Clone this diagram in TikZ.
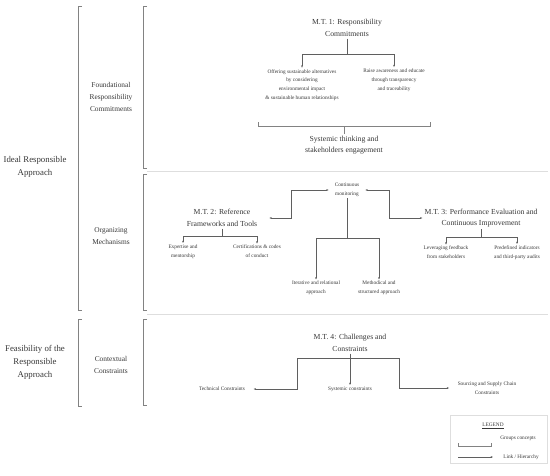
\documentclass[tikz,border=0pt]{standalone}
\usepackage{fontspec}
\setmainfont{Liberation Serif}
\usetikzlibrary{arrows.meta,positioning}
\definecolor{InkGray}{RGB}{55,55,55}
\definecolor{LineGray}{RGB}{95,95,95}
\definecolor{BraceGray}{RGB}{130,130,130}
\definecolor{RuleGray}{RGB}{222,222,222}
\newcommand{\leaffont}{\fontsize{5.3}{8.8}\selectfont}
\newcommand{\titlefont}{\fontsize{7.7}{11.5}\selectfont}
\newcommand{\groupfont}{\fontsize{7.4}{12}\selectfont}
\newcommand{\headfont}{\fontsize{8.8}{13}\selectfont}

\begin{document}
\begin{tikzpicture}[x=1pt, y=-1pt, >={Stealth[length=2.4pt,width=1.9pt]},
    every node/.style={text=InkGray, align=center}]
  \tikzstyle{leaf}=[font=\leaffont, inner sep=1.5pt]
  \tikzstyle{title}=[font=\titlefont, inner sep=2pt]
  \tikzstyle{group}=[font=\groupfont, inner sep=1pt]
  \tikzstyle{head}=[font=\headfont, inner sep=1pt]
  \tikzstyle{link}=[draw=LineGray, line width=0.5pt]
  \tikzstyle{bracket}=[draw=BraceGray, line width=0.6pt]
  \useasboundingbox (0,0) rectangle (550,475);

  % brackets and separators
  \draw[bracket] (82,6) -- (78,6) -- (78,310) -- (82,310);
  \draw[bracket] (82,319) -- (78,319) -- (78,406) -- (82,406);
  \draw[bracket] (147,6) -- (143,6) -- (143,168) -- (147,168);
  \draw[bracket] (147,174) -- (143,174) -- (143,310) -- (147,310);
  \draw[bracket] (147,319) -- (143,319) -- (143,405) -- (147,405);
  \draw[RuleGray, line width=0.5pt] (147,171.5) -- (548,171.5);
  \draw[RuleGray, line width=0.5pt] (147,314) -- (548,314);

  % left labels
  \node[head]  (ideal)   at (35,167)  {Ideal Responsible\\Approach};
  \node[head]  (feas)    at (35,362)  {Feasibility of the\\Responsible\\Approach};
  \node[group] (found)   at (111,97)  {Foundational\\Responsibility\\Commitments};
  \node[group] (organ)   at (111,236) {Organizing\\Mechanisms};
  \node[group] (context) at (111,365) {Contextual\\Constraints};

  % M.T. 1
  \node[title] (mt1)   at (347,28)  {M.T. 1: Responsibility\\Commitments};
  \node[leaf]  (offer) at (302,85)  {Offering sustainable alternatives\\by considering\\environmental impact\\\& sustainable human relationships};
  \node[leaf]  (raise) at (394,80)  {Raise awareness and educate\\through transparency\\and traceability};
  \node[title] (sysen) at (344,145) {Systemic thinking and\\stakeholders engagement};
  \coordinate (j1) at (347,54);
  \draw[link] (mt1.south) -- (j1);
  \draw[link, ->] (j1) -| (offer.north);
  \draw[link, ->] (j1) -| (raise.north);
  \draw[bracket] (258,122) -- (258,126) -- (430,126) -- (430,122);
  \draw[bracket] (344,126) -- (sysen.north);

  % monitoring, M.T. 2 and M.T. 3
  \node[leaf, inner xsep=6pt] (cm) at (347,190) {Continuous\\monitoring};
  \node[title] (mt2)    at (222,218) {M.T. 2: Reference\\Frameworks and Tools};
  \node[leaf]  (expert) at (183,251.5) {Expertise and\\mentorship};
  \node[leaf]  (cert)   at (257,251.5) {Certifications \& codes\\of conduct};
  \node[leaf]  (iter)   at (316,288) {Iterative and relational\\approach};
  \node[leaf]  (meth)   at (379,288) {Methodical and\\structured approach};
  \node[title] (mt3)    at (481,218) {M.T. 3: Performance Evaluation and\\Continuous Improvement};
  \node[leaf]  (lev)    at (446,252.5) {Leveraging feedback\\from stakeholders};
  \node[leaf]  (pred)   at (517,252.5) {Predefined indicators\\and third-party audits};
  \draw[link, <->] ([xshift=10]mt2.east) -- ++(22,0) |- (cm.west);
  \draw[link, <->] (cm.east) -- ++(24,0) |- (mt3.west);
  \coordinate (j2) at (222,236);
  \coordinate (j3) at (347,238);
  \coordinate (j5) at (481,237);
  \draw[link] (mt2.south) -- (j2);
  \draw[link, ->] (j2) -| (expert.north);
  \draw[link, ->] (j2) -| (cert.north);
  \draw[link] (cm.south) -- (j3);
  \draw[link, ->] (j3) -| (iter.north);
  \draw[link, ->] (j3) -| (meth.north);
  \draw[link] (mt3.south) -- (j5);
  \draw[link, ->] (j5) -| (lev.north);
  \draw[link, ->] (j5) -| (pred.north);

  % M.T. 4
  \node[title] (mt4)  at (350,343) {M.T. 4: Challenges and\\Constraints};
  \node[leaf]  (tech) at (222,389) {Technical Constraints};
  \node[leaf]  (sysc) at (350,389) {Systemic constraints};
  \node[leaf]  (src)  at (487,388) {Sourcing and Supply Chain\\Constraints};
  \coordinate (j4) at (350,358);
  \coordinate (c4l) at (297,358);
  \coordinate (c4r) at (399,358);
  \draw[link, ->] (mt4.south) -- (sysc.north);
  \draw[link, ->] (j4) -- (c4l) |- ([xshift=7]tech.east);
  \draw[link, ->] (j4) -- (c4r) |- ([xshift=-7]src.west);

  % legend
  \draw[draw=RuleGray, line width=0.7pt] (450,415) rectangle (547,463);
  \node[leaf] (leg)    at (493,426) {\underline{LEGEND}};
  \node[leaf] (groups) at (518,438) {Groups concepts};
  \node[leaf] (hier)   at (521,457) {Link / Hierarchy};
  \draw[bracket] (458,443) -- (458,446) -- (491,446) -- (491,443);
  \coordinate (la) at (458,457);
  \coordinate (lb) at (493,457);
  \draw[link, ->] (la) -- (lb);
\end{tikzpicture}
\end{document}
